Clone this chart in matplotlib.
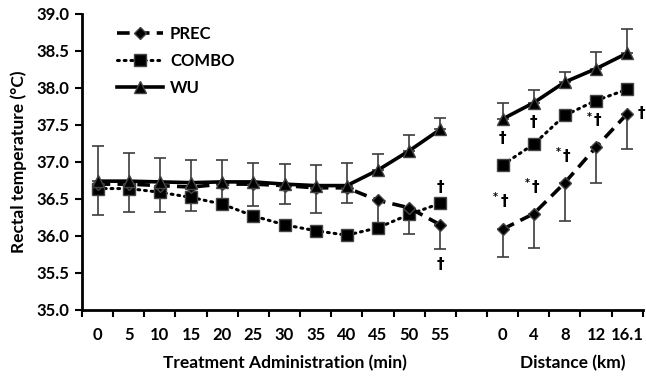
import numpy as np
import matplotlib
matplotlib.use("Agg")
import matplotlib.pyplot as plt
from matplotlib.lines import Line2D

nan = np.nan

# categories: treatment time (min), gap, distance (km)
x_labels = ["0", "5", "10", "15", "20", "25", "30", "35", "40", "45", "50", "55",
            "", "0", "4", "8", "12", "16.1"]

prec = [36.70, 36.70, 36.68, 36.66, 36.70, 36.70, 36.68, 36.65, 36.65, 36.48, 36.38, 36.15,
        nan, 36.09, 36.30, 36.72, 37.20, 37.65]
prec_err = [0.42, 0.38, 0.36, 0.33, 0.26, 0.30, 0.25, 0.34, 0.21, 0.37, 0.36, 0.33,
            nan, 0.38, 0.46, 0.52, 0.49, 0.48]

combo = [36.64, 36.64, 36.59, 36.52, 36.43, 36.27, 36.15, 36.07, 36.01, 36.11, 36.29, 36.44,
         nan, 36.96, 37.24, 37.63, 37.83, 37.98]

wu = [36.74, 36.74, 36.73, 36.72, 36.73, 36.73, 36.70, 36.68, 36.68, 36.89, 37.15, 37.44,
      nan, 37.58, 37.80, 38.08, 38.26, 38.47]
wu_err = [0.47, 0.38, 0.32, 0.31, 0.30, 0.25, 0.27, 0.28, 0.30, 0.22, 0.22, 0.16,
          nan, 0.22, 0.17, 0.14, 0.23, 0.32]

# significance marks: (category index, temperature, text)
marks = [(11, 36.66, "†"), (11, 35.62, "†"),
         (13, 37.32, "†"), (13, 36.47, "*†"),
         (14, 37.53, "†"), (14, 36.66, "*†"),
         (15, 37.08, "*†"), (16, 37.56, "*†"),
         (17.45, 37.65, "†")]

FONT = "Lato"
plt.rcParams["font.family"] = [FONT, "DejaVu Sans"]
plt.rcParams["font.weight"] = "bold"

x = np.arange(len(x_labels))

fig = plt.figure(figsize=(6.46, 3.77), dpi=100)
ax = fig.add_axes([0.127, 0.178, 0.868, 0.785])

err_kw = dict(ecolor="#3c3c3c", elinewidth=1.2, capsize=4.5, capthick=1.2, fmt="none", zorder=2)
ax.errorbar(x, wu, yerr=[np.zeros(len(x)), wu_err], **err_kw)
ax.errorbar(x, prec, yerr=[prec_err, np.zeros(len(x))], **err_kw)

ax.plot(x, combo, color="black", lw=2.2, ls=(0, (0.6, 1.6)), dash_capstyle="round",
        marker="s", ms=8, mfc="black", mec="#444444", zorder=3)
ax.plot(x, prec, color="black", lw=2.6, ls=(0, (3.5, 2.0)),
        marker="D", ms=6.5, mfc="black", mec="#444444", zorder=4)
ax.plot(x, wu, color="black", lw=2.6, ls="-",
        marker="^", ms=8.5, mfc="black", mec="#444444", zorder=5)

for xi, yi, s in marks:
    if s.startswith("*"):
        ax.text(xi + 0.05, yi, "†", ha="center", va="center", fontsize=11,
                family="DejaVu Sans", fontweight="bold")
        ax.text(xi - 0.22, yi + 0.05, "*", ha="center", va="center", fontsize=7,
                family="DejaVu Sans", fontweight="bold")
    else:
        ax.text(xi, yi, s, ha="center", va="center", fontsize=11,
                family="DejaVu Sans", fontweight="bold")

ax.set_xlim(-0.5, len(x_labels) - 0.5)
ax.set_ylim(35.0, 39.0)
ax.set_yticks(np.arange(35.0, 39.01, 0.5))
ax.set_yticklabels([f"{v:.1f}" for v in np.arange(35.0, 39.01, 0.5)], fontsize=12, fontweight="bold")

ax.set_xticks(x)
ax.set_xticklabels(x_labels, fontsize=12, fontweight="bold")
ax.set_xticks(np.arange(-0.5, len(x_labels)), minor=True)
ax.tick_params(axis="x", which="major", length=0, pad=12)
ax.tick_params(axis="x", which="minor", length=5, width=1.5, direction="out")
ax.tick_params(axis="y", length=5, width=1.5, direction="out", pad=4)

for side in ["top", "right"]:
    ax.spines[side].set_visible(False)
ax.spines["left"].set_linewidth(2.0)
ax.spines["bottom"].set_linewidth(2.0)

ax.set_ylabel("Rectal temperature (°C)", fontsize=12.5, fontweight="bold", labelpad=7)
ax.text(6.0, -0.18, "Treatment Administration (min)", transform=ax.get_xaxis_transform(),
        ha="center", va="center", fontsize=12.5, fontweight="bold")
ax.text(15.25, -0.18, "Distance (km)", transform=ax.get_xaxis_transform(),
        ha="center", va="center", fontsize=12.5, fontweight="bold")

handles = [
    Line2D([], [], color="black", lw=2.6, ls=(0, (3.5, 2.0)), marker="D", ms=6.5, mfc="black", mec="#444444"),
    Line2D([], [], color="black", lw=2.2, ls=(0, (0.6, 1.6)), dash_capstyle="round", marker="s", ms=8, mfc="black", mec="#444444"),
    Line2D([], [], color="black", lw=2.6, ls="-", marker="^", ms=8.5, mfc="black", mec="#444444"),
]
ax.legend(handles, ["PREC", "COMBO", "WU"], loc="upper left", bbox_to_anchor=(0.035, 1.01),
          frameon=False, handlelength=2.8, labelspacing=0.65, handletextpad=0.4,
          prop={"size": 12, "weight": "bold"})

fig.savefig("out.png", dpi=100)
